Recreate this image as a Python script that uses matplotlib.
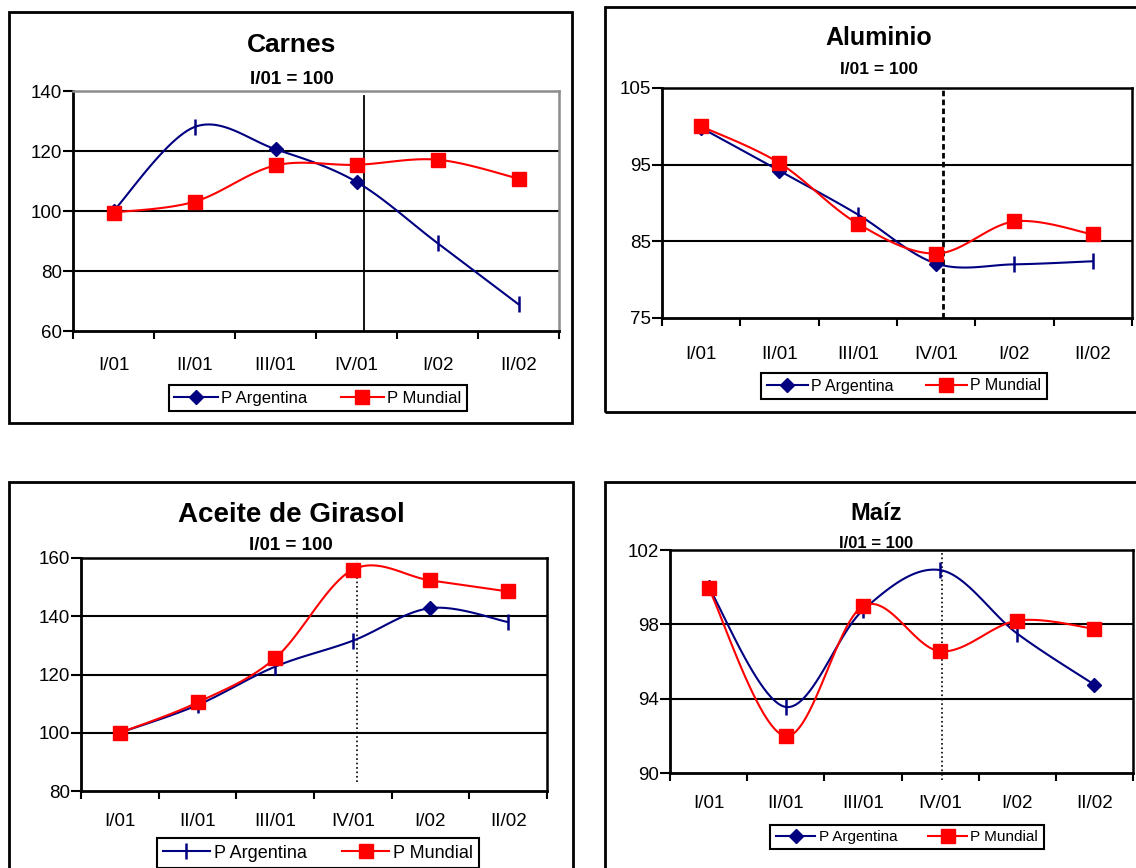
import numpy as np
import matplotlib
matplotlib.use("Agg")
import matplotlib.pyplot as plt
from matplotlib.lines import Line2D
from matplotlib.patches import Rectangle

plt.rcParams['font.family'] = ['Liberation Sans', 'DejaVu Sans']

W, H = 1136, 868
periods = ['I/01', 'II/01', 'III/01', 'IV/01', 'I/02', 'II/02']

# index values, I/01 = 100
carnes_arg = [100, 128, 120.6, 109.7, 89.3, 68.9]
carnes_mun = [99.5, 103.1, 115.2, 115.4, 117.1, 110.8]
aluminio_arg = [99.8, 94.2, 88.5, 82.1, 82.0, 82.4]
aluminio_mun = [100, 95.2, 87.3, 83.4, 87.6, 85.9]
aceite_arg = [100, 109.5, 122.7, 131.6, 142.8, 138]
aceite_mun = [100, 110.4, 125.6, 156, 152.3, 148.5]
maiz_arg = [100, 93.55, 98.76, 100.92, 97.5, 94.75]
maiz_mun = [99.95, 91.98, 98.98, 96.55, 98.2, 97.76]

NAVY = '#000080'
RED = '#FF0000'


def px(x, y):
    return x / W, 1 - y / H


def smooth(ys, n=24):
    # Bezier curve through the points, like a spreadsheet "smoothed line"
    x = np.arange(len(ys), dtype=float)
    y = np.asarray(ys, dtype=float)
    P = np.column_stack([x, y])
    Pe = np.vstack([P[0], P, P[-1]])
    out = []
    t = np.linspace(0, 1, n)[:, None]
    for i in range(len(P) - 1):
        p0, p1, p2, p3 = Pe[i], Pe[i + 1], Pe[i + 2], Pe[i + 3]
        c1 = p1 + (p2 - p0) / 6
        c2 = p2 - (p3 - p1) / 6
        seg = ((1 - t) ** 3) * p1 + 3 * ((1 - t) ** 2) * t * c1 + 3 * (1 - t) * t ** 2 * c2 + t ** 3 * p2
        out.append(seg if i == 0 else seg[1:])
    seg = np.vstack(out)
    return seg[:, 0], seg[:, 1]


def marker_style(m):
    if m == 'D':
        return dict(marker='D', markersize=7, color=NAVY, markeredgecolor=NAVY)
    return dict(marker='|', markersize=11, markeredgewidth=1.8, color=NAVY)


fig = plt.figure(figsize=(W / 100, H / 100), dpi=100)
fig.patch.set_facecolor('white')

panels = [
    dict(title='Carnes', arg=carnes_arg, mun=carnes_mun, ylim=(60, 140), yticks=[60, 80, 100, 120, 140],
         rect=(73, 91, 559, 331), frame=(9, 12, 572, 423),
         title_xy=(292, 45, 19), sub_xy=(292, 80, 13.5),
         arg_markers=['D', '|', 'D', 'D', '|', '|'], leg_marker='D',
         leg_xy=(318, 398, 12), vline=(3.09, 0, 0.978, '-', 1.3),
         gray_box=True, xpad=18.5, tick_fs=13.5),
    dict(title='Aluminio', arg=aluminio_arg, mun=aluminio_mun, ylim=(75, 105), yticks=[75, 85, 95, 105],
         rect=(662, 88, 1132, 318), frame=(605, 7, 1145, 412),
         title_xy=(879, 38, 18), sub_xy=(879, 69, 12.5),
         arg_markers=['D', 'D', '|', 'D', '|', '|'], leg_marker='D',
         leg_xy=(904, 386, 11.5), vline=(3.09, 0, 1, (0, (2, 1.2)), 2.0),
         gray_box=False, xpad=20.5, tick_fs=13.5),
    dict(title='Aceite de Girasol', arg=aceite_arg, mun=aceite_mun, ylim=(80, 160), yticks=[80, 100, 120, 140, 160],
         rect=(81, 558, 547, 791), frame=(9, 482, 573, 880),
         title_xy=(291, 515, 20), sub_xy=(291, 546, 13.5),
         arg_markers=['D', '|', '|', '|', 'D', '|'], leg_marker='|',
         leg_xy=(318, 853, 13), vline=(3.05, 0.04, 0.986, ':', 1.2),
         gray_box=False, xpad=15.5, tick_fs=13.5),
    dict(title='Maíz', arg=maiz_arg, mun=maiz_mun, ylim=(90, 102), yticks=[90, 94, 98, 102],
         rect=(670, 550, 1133, 773), frame=(605, 482, 1145, 880),
         title_xy=(876, 514, 17), sub_xy=(876, 543, 12),
         arg_markers=['D', '|', '|', '|', '|', 'D'], leg_marker='D',
         leg_xy=(907, 837, 11), vline=(3.02, -0.03, 1, ':', 1.2),
         gray_box=False, xpad=15.5, tick_fs=13.5),
]

for p in panels:
    # chart frame
    fx0, fy0 = px(p['frame'][0], p['frame'][3])
    fx1, fy1 = px(p['frame'][2], p['frame'][1])
    fig.patches.append(Rectangle((fx0, fy0), fx1 - fx0, fy1 - fy0, transform=fig.transFigure,
                                 fill=False, edgecolor='black', linewidth=2, zorder=0))

    l, t, r, b = p['rect']
    ax0, ay0 = px(l, b)
    ax = fig.add_axes([ax0, ay0, (r - l) / W, (b - t) / H])
    ax.set_xlim(-0.5, 5.5)
    ax.set_ylim(*p['ylim'])

    for s in ['left', 'bottom']:
        ax.spines[s].set_linewidth(2)
        ax.spines[s].set_color('black')
    for s in ['top', 'right']:
        ax.spines[s].set_linewidth(1.8)
        ax.spines[s].set_color('#8c8c8c' if p['gray_box'] else 'black')

    ax.set_yticks(p['yticks'])
    ax.tick_params(axis='y', direction='out', length=7, width=1.5, pad=1, labelsize=p['tick_fs'])
    ax.set_xticks(np.arange(-0.5, 6.0, 1.0))
    ax.set_xticklabels([])
    ax.set_xticks(np.arange(6), minor=True)
    ax.set_xticklabels(periods, minor=True)
    ax.tick_params(axis='x', which='major', direction='out', length=6, width=1.5)
    ax.tick_params(axis='x', which='minor', length=0, pad=p['xpad'], labelsize=p['tick_fs'])

    for g in p['yticks'][1:-1]:
        ax.axhline(g, color='black', linewidth=1.5, zorder=1)

    vx, vmin, vmax, vls, vlw = p['vline']
    ax.axvline(vx, ymin=vmin, ymax=vmax, color='black', linestyle=vls, linewidth=vlw,
               zorder=2, clip_on=False)

    # Argentina series
    sx, sy = smooth(p['arg'])
    ax.plot(sx, sy, color=NAVY, linewidth=1.5, zorder=3)
    for i, (v, m) in enumerate(zip(p['arg'], p['arg_markers'])):
        ax.plot([i], [v], linestyle='none', zorder=4, **marker_style(m))

    # Mundial series
    sx, sy = smooth(p['mun'])
    ax.plot(sx, sy, color=RED, linewidth=1.5, zorder=5)
    ax.plot(np.arange(6), p['mun'], linestyle='none', marker='s', markersize=10.5,
            color=RED, markeredgecolor=RED, zorder=6)

    tx, ty = px(p['title_xy'][0], p['title_xy'][1])
    fig.text(tx, ty, p['title'], ha='center', va='center', fontsize=p['title_xy'][2], fontweight='bold')
    sx_, sy_ = px(p['sub_xy'][0], p['sub_xy'][1])
    fig.text(sx_, sy_, 'I/01 = 100', ha='center', va='center', fontsize=p['sub_xy'][2], fontweight='bold')

    h_arg = Line2D([], [], color=NAVY, linewidth=1.5, **{k: v for k, v in marker_style(p['leg_marker']).items() if k != 'color'})
    h_mun = Line2D([], [], color=RED, linewidth=1.5, marker='s', markersize=10.5, markeredgecolor=RED)
    lx, ly = px(p['leg_xy'][0], p['leg_xy'][1])
    leg = ax.legend([h_arg, h_mun], ['P Argentina', 'P Mundial'], loc='center',
                    bbox_to_anchor=(lx, ly), bbox_transform=fig.transFigure, ncol=2,
                    fontsize=p['leg_xy'][2], frameon=True, fancybox=False, framealpha=1,
                    edgecolor='black', handlelength=2.6, handletextpad=0.2, columnspacing=2.0,
                    borderpad=0.35, borderaxespad=0)
    leg.get_frame().set_linewidth(1.5)

fig.savefig('out.png', dpi=100, facecolor='white')
